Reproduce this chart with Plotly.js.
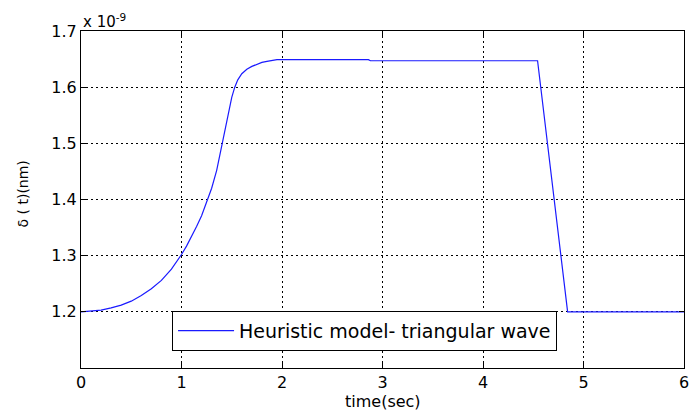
<!DOCTYPE html>
<html>
<head>
<meta charset="utf-8">
<script src="https://cdn.plot.ly/plotly-3.0.1.min.js"></script>
<style>html,body{margin:0;padding:0;background:#fff;}#chart{width:690px;height:414px;}</style>
</head>
<body>
<div id="chart"></div>
<script>
// time (sec)
const timeSec = [0, 0.1, 0.2, 0.3, 0.4, 0.5, 0.6, 0.7, 0.8, 0.9, 0.95, 1.0, 1.05, 1.1, 1.15, 1.2, 1.25, 1.3, 1.35, 1.4, 1.45, 1.5, 1.53, 1.56, 1.6, 1.65, 1.7, 1.75, 1.8, 1.85, 1.9, 1.95, 2.0, 2.86, 2.88, 4.543, 4.842, 6];
// delta(t) in units of 1e-9
const deltaVals = [1.200, 1.201, 1.203, 1.207, 1.212, 1.219, 1.229, 1.241, 1.256, 1.276, 1.288, 1.302, 1.317, 1.334, 1.352, 1.371, 1.394, 1.420, 1.452, 1.494, 1.537, 1.582, 1.600, 1.613, 1.624, 1.632, 1.637, 1.641, 1.644, 1.646, 1.648, 1.649, 1.649, 1.649, 1.647, 1.647, 1.200, 1.200];
const seriesName = 'Heuristic model- triangular wave';
const xTicks = [0, 1, 2, 3, 4, 5, 6];
const yTicks = [1.2, 1.3, 1.4, 1.5, 1.6, 1.7];

const font = 'DejaVu Sans, Verdana, sans-serif';
const trace = {
  x: timeSec, y: deltaVals, type: 'scatter', mode: 'lines', name: seriesName,
  line: {color: '#1a1aff', width: 1.2}
};
const axisCommon = {
  showline: true, linecolor: '#000', linewidth: 1, mirror: 'ticks',
  ticks: 'inside', ticklen: 5, tickcolor: '#000',
  showgrid: true, gridcolor: '#000', gridwidth: 1, griddash: '2px,3px',
  zeroline: false, tickfont: {family: font, size: 16, color: '#000'}
};
const layout = {
  width: 690, height: 414,
  margin: {l: 81, r: 6, t: 31, b: 46},
  paper_bgcolor: '#fff', plot_bgcolor: '#fff',
  showlegend: true,
  legend: {x: 0.151, y: 0.051, xanchor: 'left', yanchor: 'bottom',
    bordercolor: '#000', borderwidth: 1, bgcolor: '#fff', itemwidth: 56,
    font: {family: font, size: 19, color: '#000'}},
  xaxis: Object.assign({}, axisCommon, {range: [0, 6], tickvals: xTicks, ticktext: xTicks.map(String)}),
  yaxis: Object.assign({}, axisCommon, {range: [1.1, 1.7], tickvals: yTicks, ticktext: yTicks.map(v => v.toFixed(1))}),
  annotations: [
    {text: 'x 10<sup>-9</sup>', xref: 'paper', yref: 'paper', x: 0, y: 1, xanchor: 'left', yanchor: 'bottom', showarrow: false, font: {family: font, size: 15, color: '#000'}, yshift: -2},
    {text: 'time(sec)', xref: 'paper', yref: 'paper', x: 0.5, y: 0, xanchor: 'center', yanchor: 'top', showarrow: false, yshift: -22, font: {family: font, size: 16, color: '#000'}},
    {text: 'δ ( t)(nm)', xref: 'paper', yref: 'paper', x: 0, y: 0.5, xanchor: 'center', yanchor: 'middle', textangle: -90, showarrow: false, xshift: -59, yshift: 5, font: {family: font, size: 14, color: '#000'}}
  ]
};
Plotly.newPlot('chart', [trace], layout, {displayModeBar: false, staticPlot: true});
</script>
</body>
</html>
